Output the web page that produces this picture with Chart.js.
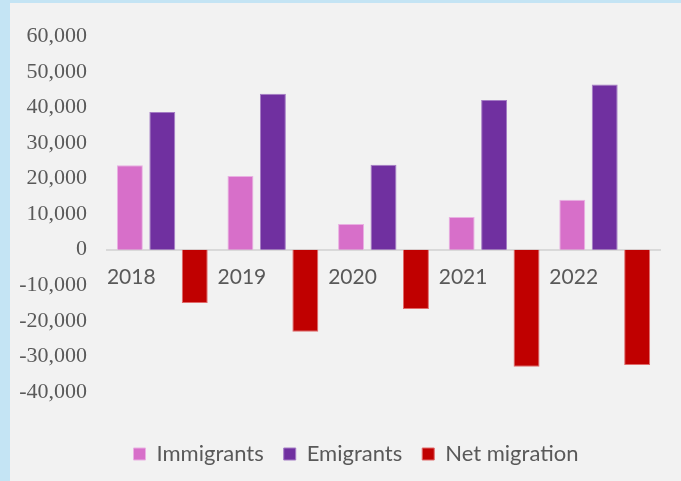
<!DOCTYPE html>
<html>
<head>
<meta charset="utf-8">
<script src="https://cdn.jsdelivr.net/npm/chart.js@4.4.1/dist/chart.umd.min.js"></script>
<style>
    html, body { margin: 0; padding: 0; background: #c4e4f4; }
    #panel {
        position: absolute; left: 10px; top: 3px;
        width: 671px; height: 478px; background: #f2f2f2;
    }
</style>
</head>
<body>
<div id="panel"><canvas id="migrationChart" width="671" height="478"></canvas></div>
<script>
/* ================= DATA ================= */
const years = ['2018', '2019', '2020', '2021', '2022'];
const immigrants = [23700, 20700, 7200, 9200, 14000];
const emigrants = [38700, 43800, 23900, 42100, 46400];
const netMigration = [-15000, -23100, -16700, -32900, -32400];
const yMin = -40000;
const yMax = 60000;
const yStep = 10000;

const grey = '#595959';

/* legend sits a bit lower and further right than the default layout puts it */
const legendOffset = {
    id: 'legendOffset',
    afterLayout(chart) {
        const lg = chart.legend;
        if (!lg) return;
        lg.left += 21;
        lg.right += 21;
        lg.top += 31;
        lg.bottom += 31;
    }
};

/* ================= CHART ================= */
const ctx = document.getElementById('migrationChart');
new Chart(ctx, {
    type: 'bar',
    data: {
        labels: years,
        datasets: [
            {
                label: 'Immigrants',
                data: immigrants,
                backgroundColor: '#d76fc9',
                borderColor: '#e9b0e2',
                borderWidth: 1
            },
            {
                label: 'Emigrants',
                data: emigrants,
                backgroundColor: '#7030a0',
                borderColor: '#a47cc4',
                borderWidth: 1
            },
            {
                label: 'Net migration',
                data: netMigration,
                backgroundColor: '#c00000',
                borderColor: '#e06a6a',
                borderWidth: 1
            }
        ]
    },
    plugins: [legendOffset],
    options: {
        responsive: false,
        animation: false,
        categoryPercentage: 0.88,
        barPercentage: 0.8,
        layout: {
            padding: { left: 0, right: 21, top: 33, bottom: 37 }
        },
        plugins: {
            tooltip: { enabled: false },
            legend: {
                position: 'bottom',
                labels: {
                    color: grey,
                    font: { family: 'Lato', size: 22 },
                    boxWidth: 12,
                    boxHeight: 12,
                    padding: 20,
                    useBorderRadius: false
                }
            }
        },
        scales: {
            x: {
                position: { y: 0 },
                grid: { display: false, drawTicks: false },
                border: { display: true, color: '#d9d9d9', width: 2 },
                ticks: {
                    color: grey,
                    font: { family: 'Lato', size: 21 },
                    padding: 15,
                    labelOffset: -31,
                    maxRotation: 0
                }
            },
            y: {
                min: yMin,
                max: yMax,
                grid: { display: false, drawTicks: false },
                border: { display: false },
                afterFit: scale => { scale.width = 97; },
                ticks: {
                    stepSize: yStep,
                    color: grey,
                    font: { family: 'Liberation Serif', size: 22 },
                    padding: 20,
                    callback: v => v.toLocaleString('en-US')
                }
            }
        }
    }
});
</script>
</body>
</html>
